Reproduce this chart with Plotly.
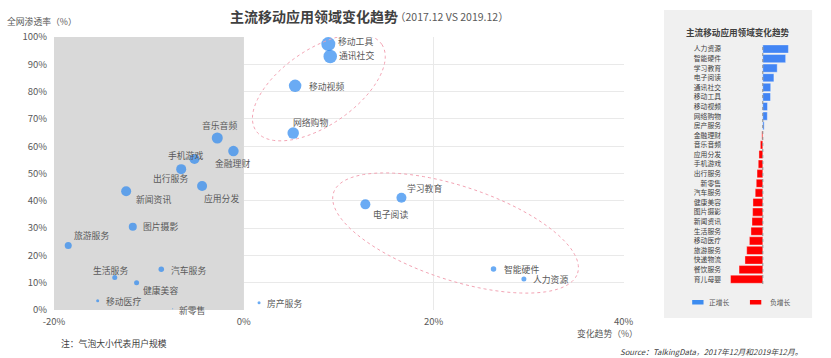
import numpy as np
import plotly.graph_objects as go

# ---------------- data ----------------
apps = ["移动工具", "通讯社交", "移动视频", "网络购物", "音乐音频", "金融理财", "手机游戏",
        "出行服务", "应用分发", "新闻资讯", "图片摄影", "旅游服务", "汽车服务", "生活服务",
        "健康美容", "移动医疗", "新零售", "房产服务", "学习教育", "电子阅读", "智能硬件", "人力资源"]
change = [8.9, 9.1, 5.4, 5.2, -2.8, -1.1, -5.2, -6.6, -4.4, -12.4, -11.7, -18.5, -8.7, -13.6,
          -11.3, -15.4, -7.5, 1.6, 16.6, 12.8, 26.3, 29.5]
penetration = [97.4, 92.9, 82.1, 64.8, 63.0, 58.2, 55.3, 51.6, 45.4, 43.5, 30.5, 23.6, 14.9, 11.9,
               10.0, 3.4, 0.5, 2.7, 41.1, 38.7, 15.0, 11.4]
user_scale = [14, 13.5, 12.5, 11.5, 11, 10.5, 10, 10, 10, 10, 8, 7, 5.5, 5, 5, 3, 1, 3, 10, 10, 5.5, 5]

bar_apps = ["人力资源", "智能硬件", "学习教育", "电子阅读", "通讯社交", "移动工具", "移动视频",
            "网络购物", "房产服务", "金融理财", "音乐音频", "应用分发", "手机游戏", "出行服务",
            "新零售", "汽车服务", "健康美容", "图片摄影", "新闻资讯", "生活服务", "移动医疗",
            "旅游服务", "快递物流", "餐饮服务", "育儿母婴"]
bar_change = [29.5, 26.3, 16.6, 12.8, 9.1, 8.9, 5.4, 5.2, 1.6, -1.1, -2.8, -4.4, -5.2, -6.6,
              -7.5, -8.7, -11.3, -11.7, -12.4, -13.6, -15.4, -18.5, -20.5, -27.3, -37.1]

x_tickvals = [-20, 0, 20, 40]
x_ticktext = ["-20%", "0%", "20%", "40%"]
y_tickvals = [0, 10, 20, 30, 40, 50, 60, 70, 80, 90, 100]
y_ticktext = [f"{v}%" for v in y_tickvals]

# ---------------- style ----------------
FONT = "Noto Sans CJK SC, Noto Sans, sans-serif"
BLUE = "#2B88F0"
LABEL = "#595959"
W, H = 831, 358
ML, MR, MT, MB = 54, 0, 37, 48
PW, PH = W - ML - MR, H - MT - MB


def px(x):
    return (x - ML) / PW


def py(y):
    return (H - MB - y) / PH


main_right = 631
X_RANGE = [-20, 40]
Y_RANGE = [0, 100]
x_ppu = (main_right - ML) / (X_RANGE[1] - X_RANGE[0])
y_ppu = PH / (Y_RANGE[1] - Y_RANGE[0])

# label offsets (pixels, center of label relative to point; dy positive = down)
label_offsets = [(27.4, -3), (26.3, -0.7), (31.3, 0.7), (17, -10.6), (2.5, -12.3), (-0.7, 12),
                 (-8.7, -3.6), (-10.7, 9.7), (19.8, 12.4), (27.2, 8), (28.2, 0), (22.9, -10),
                 (26.9, 0.7), (-4.6, -7), (23.5, 7.6), (26.2, 0.3), (18.9, 1.4), (25.8, 1.3),
                 (22.7, -9), (24.7, 9.7), (27.5, 0.3), (27, 0.3)]

fig = go.Figure()

fig.add_trace(go.Scatter(
    x=change, y=penetration, mode="markers",
    marker=dict(size=user_scale, color=BLUE, line=dict(width=0)),
    cliponaxis=False, showlegend=False, hoverinfo="text", text=apps,
    xaxis="x", yaxis="y",
))

bar_colors = ["#4285F4" if v >= 0 else "#FF0000" for v in bar_change]
fig.add_trace(go.Bar(
    x=bar_change, y=bar_apps, orientation="h",
    marker=dict(color=bar_colors, line=dict(width=0.6, color="rgba(255,255,255,0.6)")),
    showlegend=False, xaxis="x2", yaxis="y2",
))

annotations = []
for name, xv, yv, (dx, dy) in zip(apps, change, penetration, label_offsets):
    annotations.append(dict(x=xv, y=yv, xref="x", yref="y", text=name, showarrow=False,
                            xanchor="center", yanchor="middle", xshift=dx, yshift=-dy,
                            font=dict(family=FONT, size=8.8, color=LABEL)))

annotations += [
    dict(x=px(230), y=py(16), xref="paper", yref="paper", text="<b>主流移动应用领域变化趋势</b>",
         showarrow=False, xanchor="left", yanchor="middle",
         font=dict(family=FONT, size=14, color="#404040")),
    dict(x=px(397), y=py(16), xref="paper", yref="paper", text="（2017.12 VS 2019.12）",
         showarrow=False, xanchor="left", yanchor="middle",
         font=dict(family=FONT, size=10.5, color="#595959")),
    dict(x=px(4), y=py(22), xref="paper", yref="paper", text="全网渗透率（%）",
         showarrow=False, xanchor="left", yanchor="middle",
         font=dict(family=FONT, size=8.8, color=LABEL)),
    dict(x=px(648), y=py(333), xref="paper", yref="paper", text="变化趋势（%）",
         showarrow=False, xanchor="right", yanchor="middle",
         font=dict(family=FONT, size=8.8, color=LABEL)),
    dict(x=px(59), y=py(343), xref="paper", yref="paper", text="注：气泡大小代表用户规模",
         showarrow=False, xanchor="left", yanchor="middle",
         font=dict(family=FONT, size=8.8, color="#404040")),
    dict(x=px(814), y=py(351), xref="paper", yref="paper",
         text="<i>Source：TalkingData，2017年12月和2019年12月。</i>",
         showarrow=False, xanchor="right", yanchor="middle",
         font=dict(family=FONT, size=7.8, color="#404040")),
    dict(x=px(747), y=py(32), xref="paper", yref="paper", text="<b>主流移动应用领域变化趋势</b>",
         showarrow=False, xanchor="center", yanchor="middle",
         font=dict(family=FONT, size=8.6, color="#404040")),
    dict(x=px(716), y=py(302), xref="paper", yref="paper", text="正增长",
         showarrow=False, xanchor="left", yanchor="middle",
         font=dict(family=FONT, size=6.8, color=LABEL)),
    dict(x=px(777), y=py(302), xref="paper", yref="paper", text="负增长",
         showarrow=False, xanchor="left", yanchor="middle",
         font=dict(family=FONT, size=6.8, color=LABEL)),
]


def ellipse_path(cx, cy, a, b, ang_deg, n=120):
    t = np.linspace(0, 2 * np.pi, n)
    th = np.deg2rad(ang_deg)
    ex = a * np.cos(t) * np.cos(th) - b * np.sin(t) * np.sin(th)
    ey = a * np.cos(t) * np.sin(th) + b * np.sin(t) * np.cos(th)
    xs = cx + ex / x_ppu
    ys = cy + ey / y_ppu
    pts = [f"{x:.4f},{y:.4f}" for x, y in zip(xs, ys)]
    return "M" + " L".join(pts) + " Z"


ELL = dict(color="#F2A3B3", width=1, dash="dot")
shapes = [
    dict(type="rect", xref="x", yref="y", x0=-20, x1=0, y0=0, y1=100,
         fillcolor="#D9D9D9", line=dict(width=0), layer="between"),
    dict(type="path", xref="x", yref="y", path=ellipse_path(7.9, 81.5, 77, 38, 34), line=ELL),
    dict(type="path", xref="x", yref="y", path=ellipse_path(22.3, 28.2, 130, 47, -18), line=ELL),
    dict(type="rect", xref="paper", yref="paper", x0=px(672), x1=px(822), y0=py(318), y1=py(10),
         fillcolor="#F0F0F0", line=dict(width=0), layer="below"),
    dict(type="line", xref="x2", yref="y2 domain", x0=0, x1=0, y0=0, y1=1,
         line=dict(color="#8C8C8C", width=1, dash="dot")),
    dict(type="rect", xref="paper", yref="paper", x0=px(700.5), x1=px(712), y0=py(304.5), y1=py(300),
         fillcolor="#3D8CF0", line=dict(width=0)),
    dict(type="rect", xref="paper", yref="paper", x0=px(759), x1=px(770.5), y0=py(304.5), y1=py(300),
         fillcolor="#FF0000", line=dict(width=0)),
]

fig.update_layout(
    width=W, height=H,
    margin=dict(l=ML, r=MR, t=MT, b=MB),
    paper_bgcolor="white", plot_bgcolor="rgba(0,0,0,0)",
    font=dict(family=FONT, color=LABEL),
    xaxis=dict(domain=[0, (main_right - ML) / PW], range=X_RANGE, tickvals=x_tickvals,
               ticktext=x_ticktext, showgrid=True, gridcolor="#E9E9E9", gridwidth=1,
               zeroline=False, showline=False, ticks="", ticklabelstandoff=4,
               tickfont=dict(family=FONT, size=9.5, color=LABEL), fixedrange=True),
    yaxis=dict(domain=[0, 1], range=Y_RANGE, tickvals=y_tickvals, ticktext=y_ticktext,
               showgrid=True, gridcolor="#E9E9E9", gridwidth=1, zeroline=False, showline=False,
               ticks="", ticklabelstandoff=6, tickfont=dict(family=FONT, size=9.5, color=LABEL),
               anchor="x"),
    xaxis2=dict(domain=[px(736.8), px(800.2)], range=[-40, 32], showgrid=False, zeroline=False,
                showticklabels=False, ticks="", anchor="y2"),
    yaxis2=dict(domain=[py(284), py(44.2)], autorange="reversed", showgrid=False, zeroline=False,
                ticks="", anchor="x2", ticklabelstandoff=6,
                tickfont=dict(family=FONT, size=6.8, color="#404040")),
    bargap=0.15,
    annotations=annotations,
    shapes=shapes,
)

fig.write_html("out.html", config={"displayModeBar": False},
               post_script="document.body.style.margin='0';document.body.style.overflow='hidden';")
